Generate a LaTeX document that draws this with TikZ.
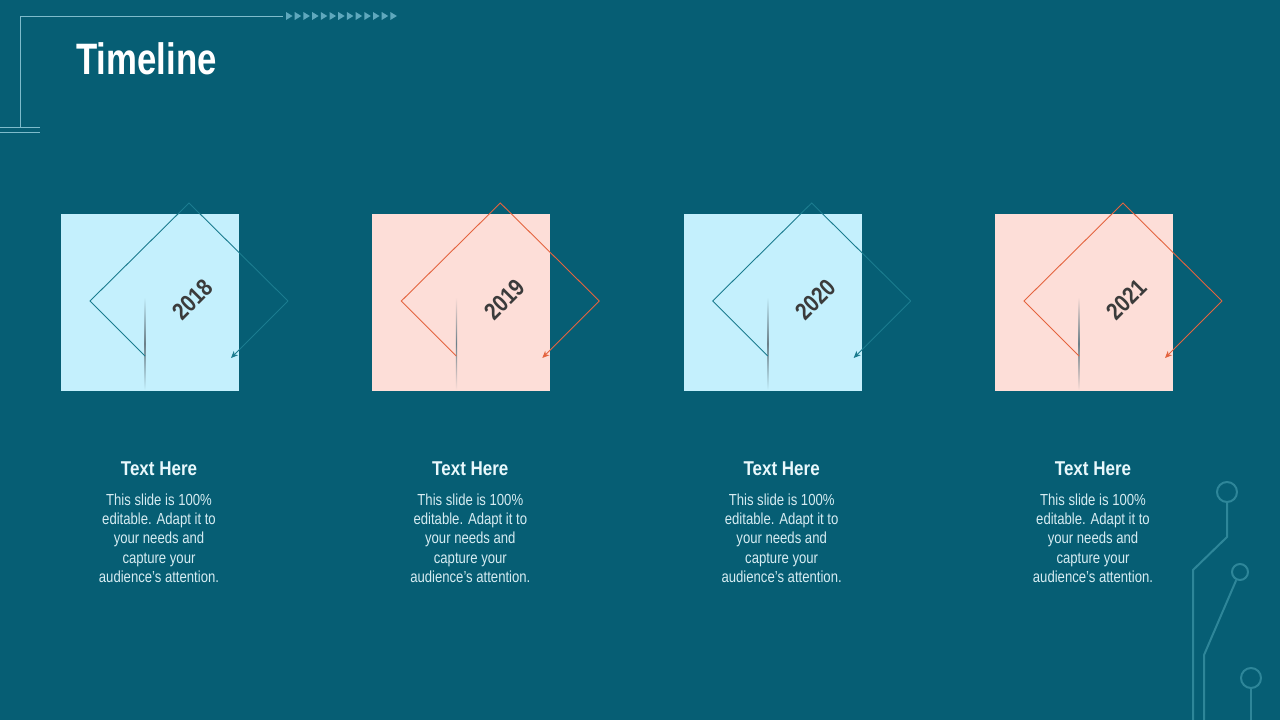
\documentclass[tikz,border=0pt]{standalone}
\usepackage{fontspec}
\setmainfont{Liberation Sans}
\usetikzlibrary{arrows.meta}
\definecolor{bg}{HTML}{065E74}
\definecolor{boxblue}{HTML}{C4F0FD}
\definecolor{boxpink}{HTML}{FDDED8}
\definecolor{lineblue}{HTML}{1B7C8F}
\definecolor{lineorange}{HTML}{E4643F}
\definecolor{yearcol}{HTML}{3B3B3B}
\definecolor{headcol}{HTML}{E8F8FC}
\definecolor{bodycol}{HTML}{D6ECF2}
\definecolor{decocol}{HTML}{7EBBCB}
\definecolor{tricol}{HTML}{5FA8BD}
\definecolor{circcol}{HTML}{2E8699}
\definecolor{fadecol}{HTML}{6A7F88}
\tikzset{
  yeartext/.style={rotate=45, inner sep=0pt, text=yearcol, font=\fontsize{24}{28}\selectfont\bfseries},
  headtext/.style={inner sep=0pt, text=headcol, font=\fontsize{20}{24}\selectfont\bfseries},
  bodytext/.style={inner sep=0pt, text=bodycol, font=\fontsize{16}{19.3}\selectfont},
  decoline/.style={draw=decocol, line width=1pt},
  circline/.style={draw=circcol, line width=2pt},
  diamline/.style={line width=0.9pt}
}
\begin{document}
\begin{tikzpicture}[x=1pt,y=-1pt]
\useasboundingbox (0,0) rectangle (1280,720);
\fill[bg] (0,0) rectangle (1280,720);

% top-left decoration
\coordinate (dA) at (0,127);
\coordinate (dB) at (40,127);
\coordinate (dC) at (0,132);
\coordinate (dD) at (40,132);
\coordinate (dE) at (20,127);
\coordinate (dF) at (20,16);
\coordinate (dG) at (283,16);
\draw[decoline] (dA) -- (dB);
\draw[decoline] (dC) -- (dD);
\draw[decoline] (dE) -- (dF) -- (dG);
\foreach \k in {0,...,12}{
  \fill[tricol] ({286+8.7*\k},12) -- ({292.5+8.7*\k},16) -- ({286+8.7*\k},20) -- cycle;
}

% title
\node[anchor=base west, inner sep=0pt, text=white, font=\fontsize{44}{50}\selectfont\bfseries] (title) at (76,74) {\scalebox{0.79}[1]{Timeline}};

% bottom-right circuit
\node[circle, draw=circcol, line width=2pt, minimum size=20pt, inner sep=0pt] (c1) at (1227,492) {};
\node[circle, draw=circcol, line width=2pt, minimum size=16pt, inner sep=0pt] (c2) at (1240,572) {};
\node[circle, draw=circcol, line width=2pt, minimum size=20pt, inner sep=0pt] (c3) at (1251,678) {};
\coordinate (p1) at (1227,537);
\coordinate (p2) at (1193,570);
\coordinate (p3) at (1193,720);
\coordinate (q1) at (1204,655);
\coordinate (q2) at (1204,720);
\coordinate (r1) at (1251,720);
\draw[circline] (c1.south) -- (p1) -- (p2) -- (p3);
\draw[circline] (c2.-115) -- (q1) -- (q2);
\draw[circline] (c3.south) -- (r1);

% timeline items
\foreach \i/\yr/\fcol/\lcol in {0/2018/boxblue/lineblue, 1/2019/boxpink/lineorange, 2/2020/boxblue/lineblue, 3/2021/boxpink/lineorange}{
  \pgfmathsetmacro{\xo}{61+311.33*\i}
  \fill[\fcol] (\xo,214) rectangle ++(178,177);
  \shade[top color=\fcol, bottom color=\fcol, middle color=fadecol] ({\xo+83.5},297) rectangle ({\xo+84.7},390);
  \coordinate (L\i) at ({\xo+29},301);
  \coordinate (T\i) at ({\xo+128},203);
  \coordinate (R\i) at ({\xo+227},301);
  \coordinate (E\i) at ({\xo+84},356);
  \coordinate (A\i) at ({\xo+170},358);
  \draw[\lcol, diamline] (E\i) -- (L\i) -- (T\i) -- (R\i);
  \draw[\lcol, diamline, -{Stealth[length=7pt,width=6pt,inset=2pt]}] (R\i) -- (A\i);
  \node[yeartext] (Y\i) at ({\xo+132},300) {\scalebox{0.85}[1]{\yr}};
  \node[headtext] (H\i) at ({\xo+98},469) {\scalebox{0.85}[1]{Text Here}};
  \node[bodytext] (B\i) at ({\xo+98},540) {\scalebox{0.82}[1]{\begin{tabular}{@{}c@{}}This slide is 100\%\\editable. Adapt it to\\your needs and\\capture your\\audience's attention.\end{tabular}}};
}
\end{tikzpicture}
\end{document}
